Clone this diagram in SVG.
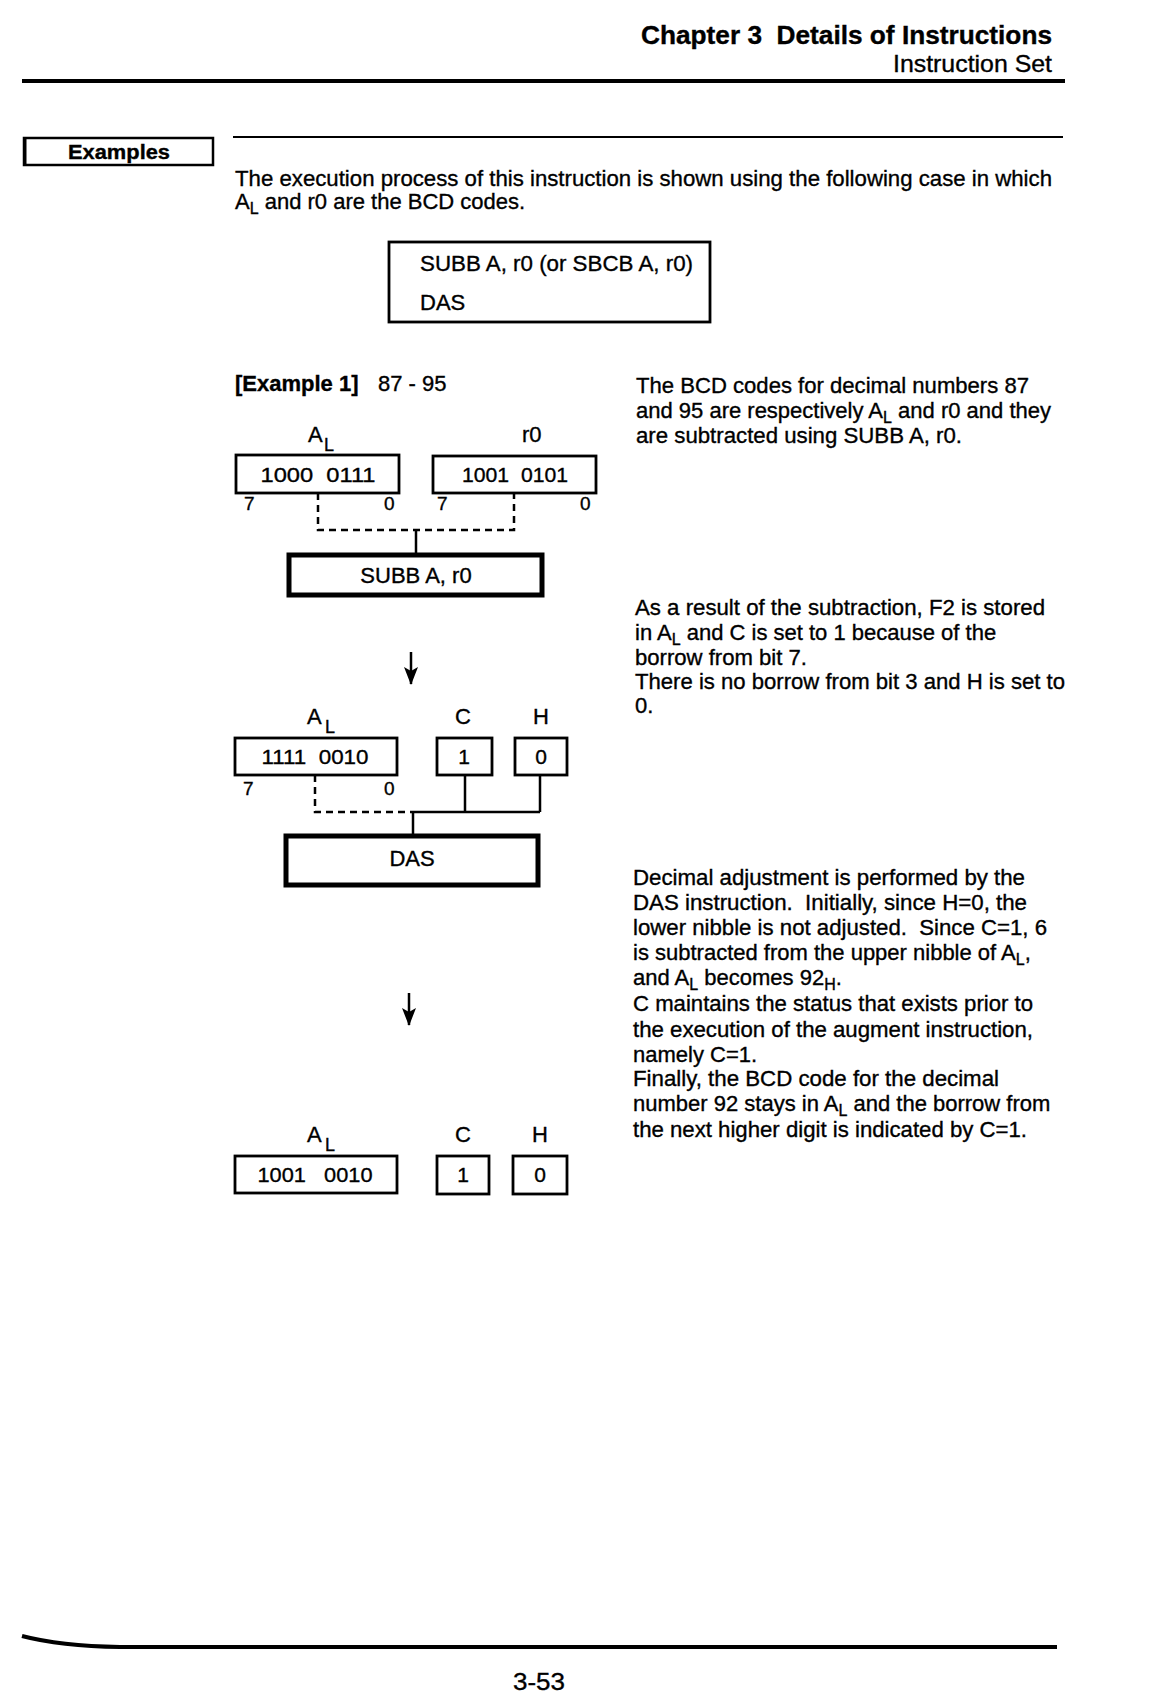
<svg xmlns="http://www.w3.org/2000/svg" width="1156" height="1696" viewBox="0 0 1156 1696">
<style>
text{font-family:"Liberation Sans",Arial,sans-serif;fill:#000;white-space:pre;stroke:#000;stroke-width:0.35}
.t{font-size:22px}
.d{font-size:21px}
.s{font-size:19px}
.b{font-weight:bold}
.box{fill:#fff;stroke:#000;stroke-width:2.8}
.thk{fill:#fff;stroke:#000;stroke-width:5}
.ln{fill:none;stroke:#000;stroke-width:2.5}
.dash{stroke-dasharray:7 5}
</style>
<defs>
<marker id="ah" markerUnits="userSpaceOnUse" markerWidth="14" markerHeight="18" refX="7" refY="17" orient="0" viewBox="0 0 14 18">
<path d="M0,0 L7,4 L14,0 L7,18 z" fill="#000"/>
</marker>
</defs>
<rect width="1156" height="1696" fill="#fff"/>

<g id="header">
<text x="641" y="44" class="b" font-size="25" textLength="411" lengthAdjust="spacingAndGlyphs" xml:space="preserve">Chapter 3  Details of Instructions</text>
<text x="893" y="72" font-size="24" textLength="159" lengthAdjust="spacingAndGlyphs">Instruction Set</text>
<line x1="22" y1="81" x2="1065" y2="81" stroke="#000" stroke-width="4"/>
</g>

<g id="examples-heading">
<rect x="24" y="138" width="189" height="27" fill="none" stroke="#000" stroke-width="2.5"/>
<line x1="25" y1="138" x2="25" y2="165" stroke="#000" stroke-width="3"/>
<text x="68" y="159" class="b" font-size="20" textLength="102" lengthAdjust="spacingAndGlyphs">Examples</text>
<line x1="233" y1="137" x2="1063" y2="137" stroke="#000" stroke-width="2"/>
</g>

<g id="intro">
<text x="235" y="186" class="t" textLength="817" lengthAdjust="spacingAndGlyphs">The execution process of this instruction is shown using the following case in which</text>
<text x="235" y="209" class="t">A<tspan font-size="16" dy="5">L</tspan><tspan dy="-5"> and r0 are the BCD codes.</tspan></text>
</g>

<g id="code-box">
<rect x="389" y="242" width="321" height="80" class="box"/>
<text x="420" y="271" class="t" textLength="273" lengthAdjust="spacingAndGlyphs">SUBB A, r0 (or SBCB A, r0)</text>
<text x="420" y="310" class="t">DAS</text>
</g>

<g id="example-title">
<text x="235" y="391" class="t b">[Example 1]</text>
<text x="378" y="391" class="t">87 - 95</text>
</g>

<g id="connectors">
<path d="M318,493 V530 H514 V493" class="ln dash"/>
<line x1="416" y1="530" x2="416" y2="554" class="ln"/>
<line x1="411" y1="652" x2="411" y2="684" class="ln" marker-end="url(#ah)"/>
<path d="M315,775 V812 H413" class="ln dash"/>
<path d="M413,812 H540 M465,775 V812 M540,775 V812" class="ln"/>
<line x1="413" y1="812" x2="413" y2="835" class="ln"/>
<line x1="409" y1="993" x2="409" y2="1025" class="ln" marker-end="url(#ah)"/>
</g>

<g id="al-1">
<text x="308" y="442" class="t">A</text><text x="324" y="451" font-size="18">L</text>
<rect x="236" y="455" width="163" height="38" class="box"/>
<text x="318" y="482" class="d" text-anchor="middle" textLength="115" lengthAdjust="spacingAndGlyphs" xml:space="preserve">1000  0111</text>
<text x="244" y="510" class="s">7</text>
<text x="384" y="510" class="s">0</text>
</g>

<g id="r0-1">
<text x="522" y="442" class="t">r0</text>
<rect x="433" y="456" width="163" height="37" class="box"/>
<text x="515" y="482" class="d" text-anchor="middle" textLength="106" lengthAdjust="spacingAndGlyphs" xml:space="preserve">1001  0101</text>
<text x="437" y="510" class="s">7</text>
<text x="580" y="510" class="s">0</text>
</g>

<g id="subb">
<rect x="289" y="555" width="253" height="40" class="thk"/>
<text x="416" y="583" class="t" text-anchor="middle">SUBB A, r0</text>
</g>

<g id="al-2">
<text x="307" y="724" class="t">A</text><text x="325" y="733" font-size="18">L</text>
<rect x="235" y="738" width="162" height="37" class="box"/>
<text x="315" y="764" class="d" text-anchor="middle" textLength="107" lengthAdjust="spacingAndGlyphs" xml:space="preserve">1111  0010</text>
<text x="243" y="795" class="s">7</text>
<text x="384" y="795" class="s">0</text>
</g>

<g id="c-2">
<text x="463" y="724" class="t" text-anchor="middle">C</text>
<rect x="437" y="738" width="55" height="37" class="box"/>
<text x="464" y="764" class="d" text-anchor="middle">1</text>
</g>

<g id="h-2">
<text x="541" y="724" class="t" text-anchor="middle">H</text>
<rect x="515" y="738" width="52" height="37" class="box"/>
<text x="541" y="764" class="d" text-anchor="middle">0</text>
</g>

<g id="das">
<rect x="286" y="836" width="252" height="49" class="thk"/>
<text x="412" y="866" class="t" text-anchor="middle">DAS</text>
</g>

<g id="al-3">
<text x="307" y="1142" class="t">A</text><text x="325" y="1151" font-size="18">L</text>
<rect x="235" y="1156" width="162" height="37" class="box"/>
<text x="315" y="1182" class="d" text-anchor="middle" textLength="115" lengthAdjust="spacingAndGlyphs" xml:space="preserve">1001   0010</text>
</g>

<g id="c-3">
<text x="463" y="1142" class="t" text-anchor="middle">C</text>
<rect x="437" y="1156" width="52" height="38" class="box"/>
<text x="463" y="1182" class="d" text-anchor="middle">1</text>
</g>

<g id="h-3">
<text x="540" y="1142" class="t" text-anchor="middle">H</text>
<rect x="513" y="1156" width="54" height="38" class="box"/>
<text x="540" y="1182" class="d" text-anchor="middle">0</text>
</g>

<g id="note-1">
<text x="636" y="393" class="t" textLength="393" lengthAdjust="spacingAndGlyphs">The BCD codes for decimal numbers 87</text>
<text x="636" y="418" class="t">and 95 are respectively A<tspan font-size="16" dy="5">L</tspan><tspan dy="-5"> and r0 and they</tspan></text>
<text x="636" y="443" class="t" textLength="326" lengthAdjust="spacingAndGlyphs">are subtracted using SUBB A, r0.</text>
</g>

<g id="note-2">
<text x="635" y="615" class="t" textLength="410" lengthAdjust="spacingAndGlyphs">As a result of the subtraction, F2 is stored</text>
<text x="635" y="640" class="t">in A<tspan font-size="16" dy="5">L</tspan><tspan dy="-5"> and C is set to 1 because of the</tspan></text>
<text x="635" y="665" class="t" textLength="172" lengthAdjust="spacingAndGlyphs">borrow from bit 7.</text>
<text x="635" y="689" class="t" textLength="430" lengthAdjust="spacingAndGlyphs">There is no borrow from bit 3 and H is set to</text>
<text x="635" y="713" class="t">0.</text>
</g>

<g id="note-3">
<text x="633" y="885" class="t" textLength="392" lengthAdjust="spacingAndGlyphs">Decimal adjustment is performed by the</text>
<text x="633" y="910" class="t" textLength="394" lengthAdjust="spacingAndGlyphs" xml:space="preserve">DAS instruction.  Initially, since H=0, the</text>
<text x="633" y="935" class="t" textLength="414" lengthAdjust="spacingAndGlyphs" xml:space="preserve">lower nibble is not adjusted.  Since C=1, 6</text>
<text x="633" y="960" class="t">is subtracted from the upper nibble of A<tspan font-size="16" dy="5">L</tspan><tspan dy="-5">,</tspan></text>
<text x="633" y="985" class="t">and A<tspan font-size="16" dy="5">L</tspan><tspan dy="-5"> becomes 92</tspan><tspan font-size="16" dy="5">H</tspan><tspan dy="-5">.</tspan></text>
<text x="633" y="1011" class="t" textLength="400" lengthAdjust="spacingAndGlyphs">C maintains the status that exists prior to</text>
<text x="633" y="1037" class="t" textLength="400" lengthAdjust="spacingAndGlyphs">the execution of the augment instruction,</text>
<text x="633" y="1062" class="t">namely C=1.</text>
<text x="633" y="1086" class="t" textLength="366" lengthAdjust="spacingAndGlyphs">Finally, the BCD code for the decimal</text>
<text x="633" y="1111" class="t">number 92 stays in A<tspan font-size="16" dy="5">L</tspan><tspan dy="-5"> and the borrow from</tspan></text>
<text x="633" y="1137" class="t" textLength="394" lengthAdjust="spacingAndGlyphs">the next higher digit is indicated by C=1.</text>
</g>

<g id="footer">
<path d="M22,1636 Q60,1646 120,1647 L1057,1647" fill="none" stroke="#000" stroke-width="4"/>
<text x="539" y="1690" font-size="24" text-anchor="middle" textLength="52" lengthAdjust="spacingAndGlyphs">3-53</text>
</g>
</svg>
